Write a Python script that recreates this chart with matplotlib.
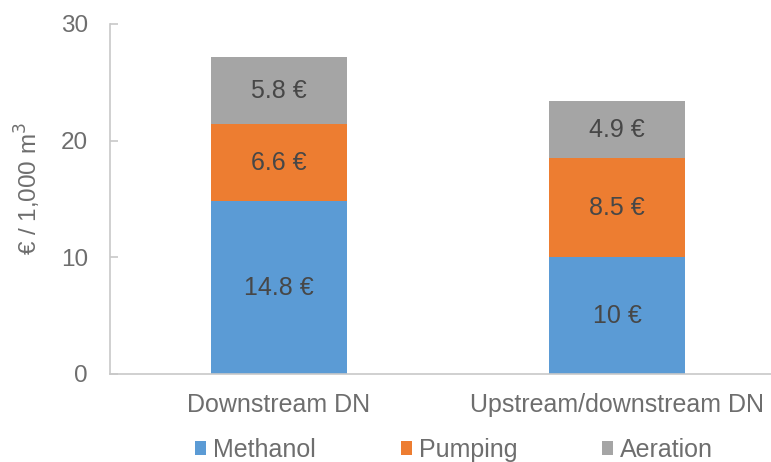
import matplotlib
matplotlib.use("Agg")
import matplotlib.pyplot as plt
import numpy as np

plt.rcParams['font.family'] = ['Liberation Sans', 'DejaVu Sans']

categories = ["Downstream DN", "Upstream/downstream DN"]
series_names = ["Methanol", "Pumping", "Aeration"]
methanol = [14.8, 10.0]
pumping = [6.6, 8.5]
aeration = [5.8, 4.9]
value_labels = [["14.8 €", "10 €"], ["6.6 €", "8.5 €"], ["5.8 €", "4.9 €"]]
colors = ["#5B9BD5", "#ED7D31", "#A5A5A5"]
yticks = [0, 10, 20, 30]

TEXT = "#6E6E6E"
W, H = 771, 462
fig = plt.figure(figsize=(W / 100, H / 100), dpi=100)
fig.patch.set_facecolor("white")
ax = fig.add_axes([110 / W, 1 - 374 / H, 676 / W, 350 / H])

x = np.arange(len(categories))
bottom = np.zeros(len(categories))
handles = []
for vals, name, col, labs in zip([methanol, pumping, aeration], series_names, colors, value_labels):
    bars = ax.bar(x, vals, width=0.4, bottom=bottom, color=col, label=name, zorder=2)
    handles.append(bars)
    for xi, b, v, lab in zip(x, bottom, vals, labs):
        ax.text(xi, b + v / 2, lab, ha="center", va="center", fontsize=18, color="#474747")
    bottom += np.array(vals)

ax.set_xlim(-0.5, 1.5)
ax.set_ylim(0, 30)
ax.set_yticks(yticks)
ax.set_xticks(x)
ax.set_xticklabels(categories)
ax.tick_params(axis="x", length=0, pad=14, labelsize=18, labelcolor=TEXT)
ax.tick_params(axis="y", direction="in", length=6, width=1.2, color="#C8C8C8",
               pad=16, labelsize=17.5, labelcolor=TEXT)
for s in ["top", "right"]:
    ax.spines[s].set_visible(False)
for s in ["left", "bottom"]:
    ax.spines[s].set_color("#C8C8C8")
    ax.spines[s].set_linewidth(1.2)

fig.text(28 / W, 1 - 188 / H, "€ / 1,000 m$^3$", rotation=90, ha="center", va="center",
         fontsize=17.5, color=TEXT)

fig.legend(handles=handles, labels=series_names, loc="center left",
           bbox_to_anchor=(195 / W, 1 - 450 / H), ncol=3, frameon=False,
           borderpad=0, borderaxespad=0,
           fontsize=18, labelcolor=TEXT, handlelength=0.44, handleheight=0.44,
           handletextpad=0.28, columnspacing=3.4)

fig.savefig("out.png", dpi=100, facecolor="white")
